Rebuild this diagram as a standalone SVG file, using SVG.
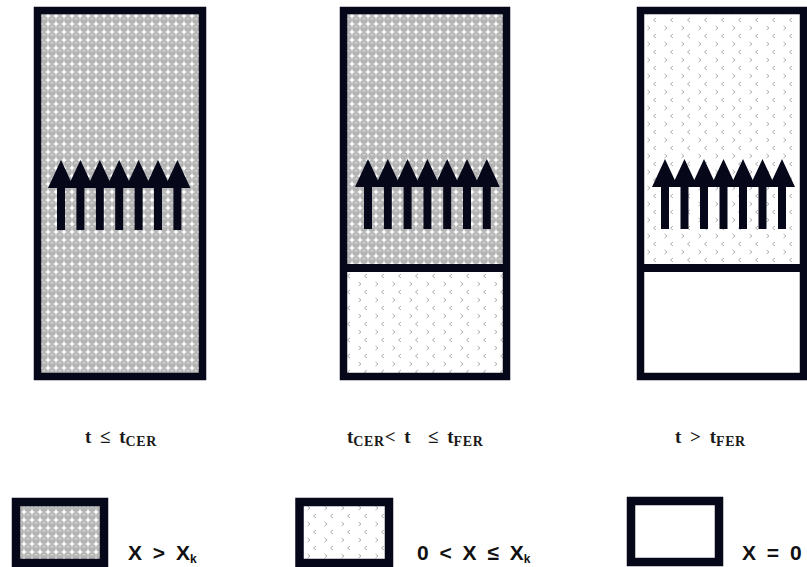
<svg xmlns="http://www.w3.org/2000/svg" width="807" height="567" viewBox="0 0 807 567">
<style>
.frame{fill:none;stroke:#07071a;stroke-width:7.5}
.div{stroke:#07071a;stroke-width:8}
.lbl{font-family:"Liberation Serif",serif;font-weight:bold;font-size:19px;fill:#1a1a1a;word-spacing:4px}
.sub{font-size:14px;letter-spacing:0.6px}
.leg{font-family:"Liberation Sans",Arial,sans-serif;font-weight:bold;font-size:21px;fill:#111;word-spacing:5px}
.legsub{font-size:12px}
</style>
<defs>
<pattern id="dense" width="8" height="8" patternUnits="userSpaceOnUse">
<rect width="8" height="8" fill="#ffffff"/>
<circle cx="4" cy="4" r="3.9" fill="#b4b4b4"/>
<rect x="2.5" y="2.2" width="3" height="1.2" fill="#d8d8d8"/>
</pattern>
<pattern id="sparse" width="17" height="16" patternUnits="userSpaceOnUse">
<rect width="17" height="16" fill="#ffffff"/>
<path d="M10 2 L7.5 4 L10 6" fill="none" stroke="#b0b0b0" stroke-width="1"/>
<path d="M1.5 10 L4 12 L1.5 14" fill="none" stroke="#b0b0b0" stroke-width="1"/>
</pattern>
<path id="arr" d="M0 0 L13 28 L4 28 L4 70 L-4 70 L-4 28 L-13 28 Z" fill="#07071a"/>
</defs>

<g id="col1">
<rect x="37.5" y="10.5" width="165" height="366" fill="url(#dense)"/>
<rect class="frame" x="37.5" y="10.5" width="165" height="366"/>
<use href="#arr" x="61" y="160"/>
<use href="#arr" x="80.4" y="160"/>
<use href="#arr" x="99.8" y="160"/>
<use href="#arr" x="119.2" y="160"/>
<use href="#arr" x="138.6" y="160"/>
<use href="#arr" x="158" y="160"/>
<use href="#arr" x="177.4" y="160"/>
</g>

<g id="col2">
<rect x="343.5" y="10.5" width="163" height="258" fill="url(#dense)"/>
<rect x="343.5" y="268" width="163" height="108.5" fill="url(#sparse)"/>
<line class="div" x1="343.5" y1="268" x2="506.5" y2="268"/>
<rect class="frame" x="343.5" y="10.5" width="163" height="366"/>
<use href="#arr" x="368" y="159"/>
<use href="#arr" x="387.8" y="159"/>
<use href="#arr" x="407.6" y="159"/>
<use href="#arr" x="427.4" y="159"/>
<use href="#arr" x="447.2" y="159"/>
<use href="#arr" x="467" y="159"/>
<use href="#arr" x="486.8" y="159"/>
</g>

<g id="col3">
<rect x="640.5" y="10.5" width="162" height="258" fill="url(#sparse)"/>
<rect x="640.5" y="268" width="162" height="108.5" fill="#ffffff"/>
<line class="div" x1="640.5" y1="268" x2="802.5" y2="268"/>
<rect class="frame" x="640.5" y="10.5" width="163" height="366"/>
<use href="#arr" x="665" y="159"/>
<use href="#arr" x="684.5" y="159"/>
<use href="#arr" x="704" y="159"/>
<use href="#arr" x="723.5" y="159"/>
<use href="#arr" x="743" y="159"/>
<use href="#arr" x="762.5" y="159"/>
<use href="#arr" x="782" y="159"/>
</g>

<g id="labels">
<text class="lbl" x="85" y="443">t ≤ t<tspan class="sub" dy="3">CER</tspan></text>
<text class="lbl" x="347" y="443">t<tspan class="sub" dy="3">CER</tspan><tspan dy="-3">&lt; t &#160;≤ t</tspan><tspan class="sub" dy="3">FER</tspan></text>
<text class="lbl" x="675" y="443">t &gt; t<tspan class="sub" dy="3">FER</tspan></text>
</g>

<g id="legend1">
<rect x="16" y="502" width="88" height="61" fill="url(#dense)"/>
<rect x="16" y="502" width="88" height="61" fill="none" stroke="#07071a" stroke-width="8.5"/>
<text class="leg" x="128" y="560">X &gt; X<tspan class="legsub" dy="3">k</tspan></text>
</g>
<g id="legend2">
<rect x="299.5" y="502" width="89.5" height="61" fill="url(#sparse)"/>
<rect x="299.5" y="502" width="89.5" height="61" fill="none" stroke="#07071a" stroke-width="8.5"/>
<text class="leg" x="417" y="560">0 &lt; X ≤ X<tspan class="legsub" dy="3">k</tspan></text>
</g>
<g id="legend3">
<rect x="631" y="501" width="88" height="61" fill="#ffffff" stroke="#07071a" stroke-width="8.5"/>
<text class="leg" x="742" y="560">X = 0</text>
</g>
</svg>
